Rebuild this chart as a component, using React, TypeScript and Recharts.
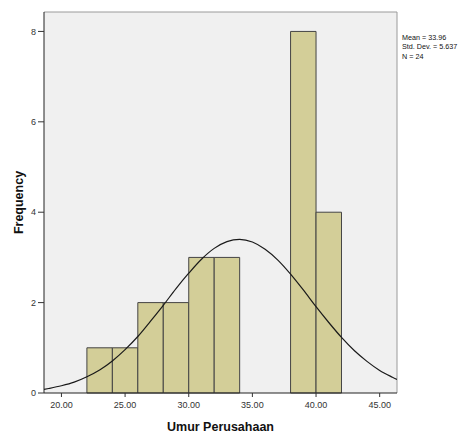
import {
  ComposedChart,
  Line,
  XAxis,
  YAxis,
  CartesianGrid,
  ReferenceArea,
  ReferenceLine,
} from 'recharts';

// histogram bins (width 2)
const binStarts = [22, 24, 26, 28, 30, 32, 34, 36, 38, 40];
const binCounts = [1, 1, 2, 2, 3, 3, 0, 0, 8, 4];
const binWidth = 2;

// normal curve
const curveX = [
  18.63, 19, 20, 21, 22, 23, 24, 25, 26, 27, 28, 29, 30, 31, 32, 33, 34, 35,
  36, 37, 38, 39, 40, 41, 42, 43, 44, 45, 46, 46.36,
];
const curveY = [
  0.08, 0.1, 0.16, 0.24, 0.36, 0.51, 0.71, 0.96, 1.25, 1.59, 1.94, 2.31, 2.65,
  2.96, 3.2, 3.35, 3.4, 3.34, 3.18, 2.94, 2.63, 2.28, 1.91, 1.56, 1.23, 0.94,
  0.7, 0.5, 0.35, 0.3,
];

const xTicks = [20, 25, 30, 35, 40, 45];
const yTicks = [0, 2, 4, 6, 8];
const xDomain: [number, number] = [18.63, 46.36];
const yMax = 8.43;

const stats = ['Mean = 33.96', 'Std. Dev. = 5.637', 'N = 24'];

const curveData = curveX.map((x, i) => ({ x, y: curveY[i] }));

const FONT = '"Liberation Sans", Arial, sans-serif';
const tickStyle = { fontSize: 9, fill: '#333', fontFamily: FONT };

export default function App() {
  return (
    <div style={{ position: 'absolute', left: 0, top: 0, width: 472, height: 435, background: '#fff' }}>
      <ComposedChart
        width={472}
        height={435}
        data={curveData}
        margin={{ top: 12, right: 75, left: 0, bottom: 0 }}
      >
        <CartesianGrid fill="#f0f0f0" horizontal={false} vertical={false} />

        {binStarts.map((start, i) =>
          binCounts[i] > 0 ? (
            <ReferenceArea
              key={start}
              x1={start}
              x2={start + binWidth}
              y1={0}
              y2={binCounts[i]}
              fill="#d3ce98"
              fillOpacity={1}
              stroke="#444"
              strokeWidth={1}
              ifOverflow="visible"
            />
          ) : null
        )}

        <ReferenceLine y={yMax} stroke="#9a9a9a" strokeWidth={1} ifOverflow="visible" />
        <ReferenceLine x={xDomain[1]} stroke="#9a9a9a" strokeWidth={1} ifOverflow="visible" />

        <XAxis
          dataKey="x"
          type="number"
          domain={xDomain}
          allowDataOverflow
          ticks={xTicks}
          tickFormatter={(v: number) => v.toFixed(2)}
          tick={tickStyle}
          tickSize={4}
          tickMargin={5}
          tickLine={{ stroke: '#333' }}
          axisLine={{ stroke: '#222' }}
          height={42}
          label={{
            value: 'Umur Perusahaan',
            position: 'insideBottom',
            offset: 4.5,
            style: { fontSize: 12.5, fontWeight: 'bold', fill: '#111', fontFamily: FONT },
          }}
        />

        <YAxis
          type="number"
          domain={[0, yMax]}
          allowDataOverflow
          ticks={yTicks}
          tick={tickStyle}
          tickSize={6}
          tickMargin={2}
          tickLine={{ stroke: '#333' }}
          axisLine={{ stroke: '#222' }}
          width={44}
          label={{
            value: 'Frequency',
            angle: -90,
            position: 'insideLeft',
            offset: 19,
            style: { fontSize: 12.5, fontWeight: 'bold', fill: '#111', fontFamily: FONT, textAnchor: 'middle' },
          }}
        />

        <Line
          type="monotone"
          dataKey="y"
          stroke="#1a1a1a"
          strokeWidth={1.2}
          dot={false}
          activeDot={false}
          isAnimationActive={false}
        />
      </ComposedChart>

      <div
        style={{
          position: 'absolute',
          left: 402,
          top: 33,
          fontFamily: FONT,
          fontSize: 7.2,
          lineHeight: '9.3px',
          color: '#111',
          whiteSpace: 'nowrap',
        }}
      >
        {stats.map((s) => (
          <div key={s}>{s}</div>
        ))}
      </div>
    </div>
  );
}
